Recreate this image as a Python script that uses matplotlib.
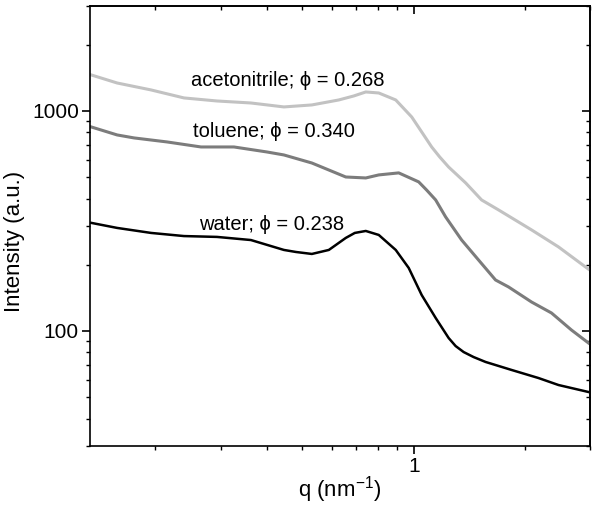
import matplotlib
matplotlib.use("Agg")
import matplotlib.pyplot as plt
from matplotlib.ticker import LogLocator, NullFormatter, FuncFormatter

plt.rcParams['font.family'] = ['Liberation Sans', 'DejaVu Sans']
plt.rcParams['mathtext.fontset'] = 'custom'
plt.rcParams['mathtext.rm'] = 'Liberation Sans'
plt.rcParams['mathtext.it'] = 'Liberation Sans:italic'

# -------- datos --------
q_acn = [0.134, 0.1575, 0.1946, 0.2389, 0.2935, 0.3626, 0.4453, 0.5301, 0.6269, 0.6884,
         0.7418, 0.8043, 0.8941, 0.9876, 1.0642, 1.1185, 1.1757, 1.2433, 1.3823, 1.5267,
         1.6967, 2.0843, 2.4654, 2.9717]
I_acn = [1458, 1340, 1246, 1146, 1110, 1087, 1043, 1065, 1122, 1170,
         1220, 1207, 1122, 939, 778, 686, 618, 556, 471, 394,
         355, 288, 241, 191]

q_tol = [0.134, 0.1575, 0.1751, 0.2150, 0.2657, 0.3262, 0.4006, 0.4453, 0.5301, 0.6549,
         0.7418, 0.8043, 0.9109, 1.0316, 1.0840, 1.1467, 1.2200, 1.3483, 1.4986, 1.6653,
         1.8060, 2.0843, 2.3604, 2.6730, 2.9717]
I_tol = [846, 778, 754, 723, 686, 686, 651, 631, 580, 501,
         496, 512, 523, 476, 437, 394, 330, 259, 210, 170.5,
         158.5, 135.4, 120.7, 101, 88.2]

q_wat = [0.134, 0.1575, 0.1946, 0.2389, 0.2935, 0.3626, 0.4453, 0.4798, 0.5301, 0.5893,
         0.6549, 0.6927, 0.7418, 0.8043, 0.8941, 0.9694, 1.0510, 1.1467, 1.2433, 1.2986,
         1.3652, 1.4527, 1.5652, 1.8400, 2.1771, 2.4654, 2.9717]
I_wat = [310, 294, 279, 270, 267.6, 259, 233.5, 228.6, 223.9, 233.5,
         264.8, 279, 284.8, 273.2, 233.5, 193.4, 145.7, 114.6, 92.9, 85.4,
         80.2, 76.1, 72.3, 66.5, 61.1, 56.8, 52.8]

etiquetas = ["acetonitrile; \u03d5 = 0.268", "toluene; \u03d5 = 0.340", "water; \u03d5 = 0.238"]
pos_etiquetas = [(0.2495, 1299), (0.2528, 762), (0.2624, 288)]

# -------- figura --------
fig = plt.figure(figsize=(6, 5.07), dpi=100)
ax = fig.add_axes([0.15, 0.1203, 0.8333, 0.8679])

ax.plot(q_acn, I_acn, color="#c2c2c2", lw=2.2)
ax.plot(q_tol, I_tol, color="#7c7c7c", lw=2.2)
ax.plot(q_wat, I_wat, color="black", lw=1.8)

for txt, (x, y) in zip(etiquetas, pos_etiquetas):
    ax.text(x, y, txt, ha="left", va="baseline", fontsize=14.5)

ax.set_xscale("log")
ax.set_yscale("log")
ax.set_xlim(0.133, 3.0)
ax.set_ylim(30, 3000)

fmt = FuncFormatter(lambda v, _: f"{v:g}")
for axis in (ax.xaxis, ax.yaxis):
    axis.set_major_locator(LogLocator(base=10))
    axis.set_minor_locator(LogLocator(base=10, subs=range(2, 10)))
    axis.set_major_formatter(fmt)
    axis.set_minor_formatter(NullFormatter())

ax.tick_params(which="major", direction="out", length=6, width=1.2, labelsize=15, pad=2)
ax.tick_params(which="minor", direction="out", length=3, width=1.0)
for s in ax.spines.values():
    s.set_linewidth(1.2)

# ticks hacia dentro arriba y a la derecha
top = ax.secondary_xaxis("top")
right = ax.secondary_yaxis("right")
for sec, axis in ((top, top.xaxis), (right, right.yaxis)):
    axis.set_major_locator(LogLocator(base=10))
    axis.set_minor_locator(LogLocator(base=10, subs=range(2, 10)))
    axis.set_major_formatter(NullFormatter())
    axis.set_minor_formatter(NullFormatter())
    sec.tick_params(which="major", direction="in", length=6, width=1.2)
    sec.tick_params(which="minor", direction="in", length=3, width=1.0)
    for s in sec.spines.values():
        s.set_linewidth(1.2)

ax.set_xlabel("q (nm$^{-1}$)", fontsize=16)
ax.set_ylabel("Intensity (a.u.)", fontsize=16)
ax.xaxis.set_label_coords(0.5, -0.064)
ax.yaxis.set_label_coords(-0.13, 0.466)

fig.savefig("out.png", dpi=100)
